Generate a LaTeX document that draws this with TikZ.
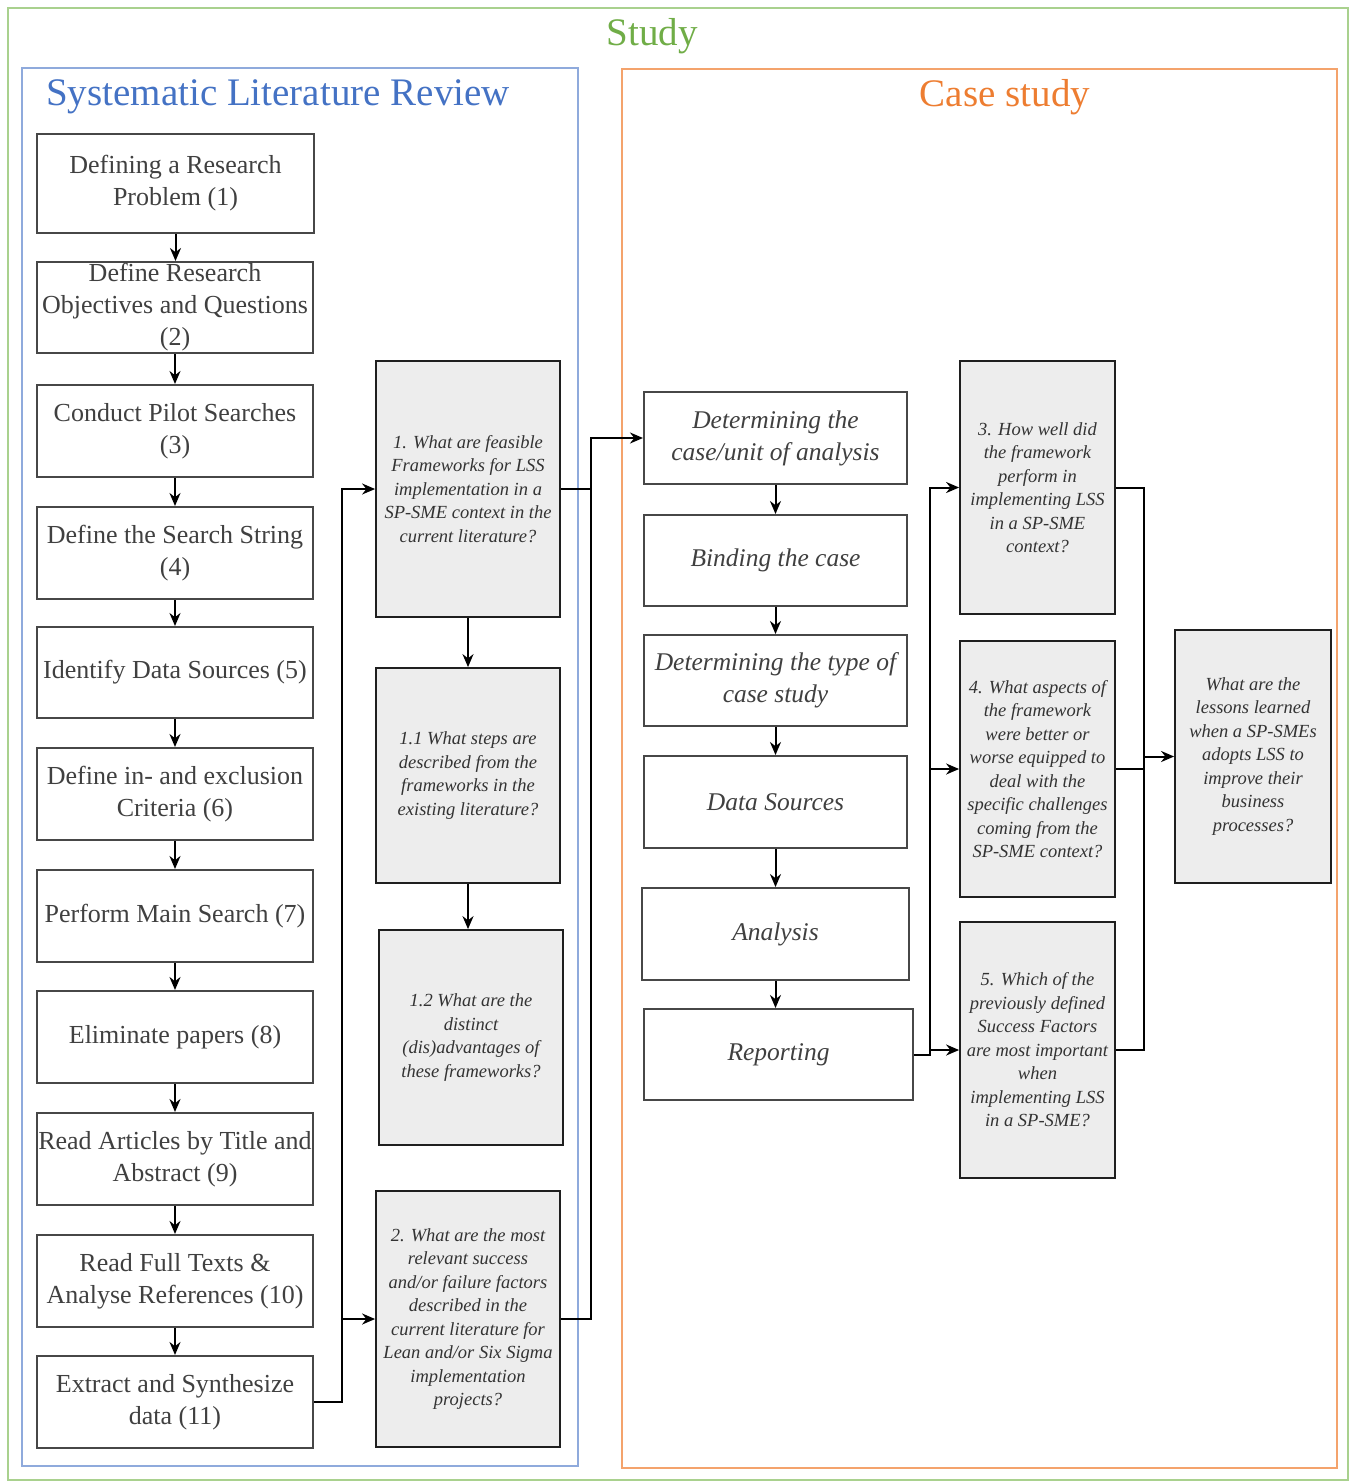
\documentclass[tikz,border=0pt]{standalone}
\usepackage{fontspec}
\setmainfont{Liberation Serif}
\usetikzlibrary{arrows.meta}

\definecolor{studygreen}{HTML}{70AD47}
\definecolor{framegreen}{HTML}{A9D18E}
\definecolor{slrblue}{HTML}{4472C4}
\definecolor{frameblue}{HTML}{8FAADC}
\definecolor{caseorange}{HTML}{ED7D31}
\definecolor{frameorange}{HTML}{F4A36C}
\definecolor{boxtext}{HTML}{404040}
\definecolor{qfill}{HTML}{EDEDED}

\tikzset{
  stepbox/.style={draw=black!72, line width=2pt, fill=white, inner sep=0pt,
    align=center, text=boxtext, font=\fontsize{26}{32}\selectfont},
  casebox/.style={stepbox, font=\itshape\fontsize{25.5}{32}\selectfont},
  qbox/.style={draw=black!88, line width=1.8pt, fill=qfill, inner sep=0pt,
    align=center, text=black!80, font=\itshape\fontsize{18.5}{23.5}\selectfont},
  arr/.style={line width=2pt, -{Stealth[length=13pt,width=11pt]}},
  wire/.style={line width=2pt},
  title/.style={font=\fontsize{39}{44}\selectfont, inner sep=0pt}
}

\begin{document}
\begin{tikzpicture}[x=1pt,y=-1pt]
\useasboundingbox (0,0) rectangle (1354,1483);

% frames
\draw[framegreen, line width=1.6pt] (8,8) rectangle (1348,1480);
\draw[frameblue, line width=2pt] (22,68) rectangle (578,1466);
\draw[frameorange, line width=2pt] (622,69) rectangle (1337,1468);

\node[title, text=studygreen] (tstudy) at (652,36) {Study};
\node[title, text=slrblue] (tslr) at (278,97) {Systematic Literature Review};
\node[title, text=caseorange] (tcase) at (1005,97) {Case study};

% systematic literature review steps
\node[stepbox, minimum width=277, minimum height=99] (b1) at (175.5,183.5) {Defining a Research\\Problem (1)};
\node[stepbox, minimum width=276, minimum height=91] (b2) at (175,307.5) {Define Research\\Objectives and Questions\\(2)};
\node[stepbox, minimum width=276, minimum height=92] (b3) at (175,431) {Conduct Pilot Searches\\(3)};
\node[stepbox, minimum width=276, minimum height=92] (b4) at (175,553) {Define the Search String\\(4)};
\node[stepbox, minimum width=276, minimum height=91] (b5) at (175,672.5) {Identify Data Sources (5)};
\node[stepbox, minimum width=276, minimum height=92] (b6) at (175,794) {Define in- and exclusion\\Criteria (6)};
\node[stepbox, minimum width=276, minimum height=92] (b7) at (175,916) {Perform Main Search (7)};
\node[stepbox, minimum width=276, minimum height=92] (b8) at (175,1037) {Eliminate papers (8)};
\node[stepbox, minimum width=276, minimum height=92] (b9) at (175,1159) {Read Articles by Title and\\Abstract (9)};
\node[stepbox, minimum width=276, minimum height=92] (b10) at (175,1281) {Read Full Texts \&\\Analyse References (10)};
\node[stepbox, minimum width=276, minimum height=92] (b11) at (175,1402) {Extract and Synthesize\\data (11)};

% literature review questions
\node[qbox, minimum width=184, minimum height=256] (q1) at (468,489) {1. What are feasible\\Frameworks for LSS\\implementation in a\\SP-SME context in the\\current literature?};
\node[qbox, minimum width=184, minimum height=215] (q11) at (468,775.5) {1.1 What steps are\\described from the\\frameworks in the\\existing literature?};
\node[qbox, minimum width=184, minimum height=215] (q12) at (471,1037.5) {1.2 What are the\\distinct\\(dis)advantages of\\these frameworks?};
\node[qbox, minimum width=184, minimum height=256] (q2) at (468,1319) {2. What are the most\\relevant success\\and/or failure factors\\described in the\\current literature for\\Lean and/or Six Sigma\\implementation\\projects?};

% case study steps
\node[casebox, minimum width=263, minimum height=92] (c1) at (775.5,438) {Determining the\\case/unit of analysis};
\node[casebox, minimum width=263, minimum height=91] (c2) at (775.5,560.5) {Binding the case};
\node[casebox, minimum width=263, minimum height=91] (c3) at (775.5,680.5) {Determining the type of\\case study};
\node[casebox, minimum width=263, minimum height=92] (c4) at (775.5,802) {Data Sources};
\node[casebox, minimum width=267, minimum height=92] (c5) at (775.5,934) {Analysis};
\node[casebox, minimum width=269, minimum height=91] (c6) at (778.5,1054.5) {Reporting};

% case study questions
\node[qbox, minimum width=155, minimum height=253] (q3) at (1037.5,487.5) {3. How well did\\the framework\\perform in\\implementing LSS\\in a SP-SME\\context?};
\node[qbox, minimum width=155, minimum height=256] (q4) at (1037.5,769) {4. What aspects of\\the framework\\were better or\\worse equipped to\\deal with the\\specific challenges\\coming from the\\SP-SME context?};
\node[qbox, minimum width=155, minimum height=256] (q5) at (1037.5,1050) {5. Which of the\\previously defined\\Success Factors\\are most important\\when\\implementing LSS\\in a SP-SME?};
\node[qbox, minimum width=156, minimum height=253] (qf) at (1253,756.5) {What are the\\lessons learned\\when a SP-SMEs\\adopts LSS to\\improve their\\business\\processes?};

% vertical flow within the columns
\foreach \a/\b in {b1/b2,b2/b3,b3/b4,b4/b5,b5/b6,b6/b7,b7/b8,b8/b9,b9/b10,b10/b11,
                   q1/q11,q11/q12,c1/c2,c2/c3,c3/c4,c4/c5,c5/c6}
  \draw[arr] (\a.south) -- (\a.south |- \b.north);

% bus lines
\coordinate (busL) at (342,0);
\coordinate (busM) at (591,0);
\coordinate (busR) at (930,0);
\coordinate (busF) at (1144,0);

% from the review steps to the research questions
\draw[arr] (b11.east) -- (b11.east -| busL) |- (q1.west);
\draw[arr] (b11.east -| busL) |- (q2.west);

% from the research questions to the case study
\draw[wire] (q1.east) -- (q1.east -| busM);
\draw[arr] (q2.east) -| (busM |- c1.west) -- (c1.west);

% from reporting to the case study questions
\draw[arr] (c6.east) -| (busR |- q3.west) -- (q3.west);
\draw[arr] (busR |- q4.west) -- (q4.west);
\draw[arr] (busR |- q5.west) -- (q5.west);

% from the case study questions to the lessons learned
\draw[wire] (q3.east) -| (busF |- q5.east) -- (q5.east);
\draw[wire] (q4.east) -- (q4.east -| busF);
\draw[arr] (busF |- qf.west) -- (qf.west);
\end{tikzpicture}
\end{document}
